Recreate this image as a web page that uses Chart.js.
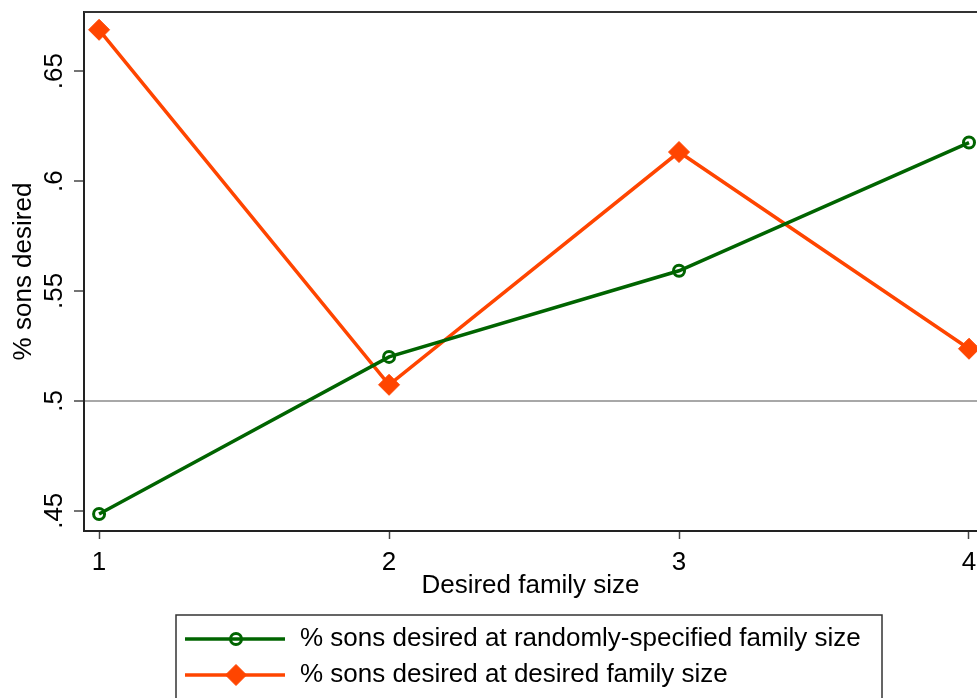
<!DOCTYPE html>
<html>
<head>
<meta charset="utf-8">
<script src="https://cdn.jsdelivr.net/npm/chart.js@4"></script>
<style>
  html, body { margin: 0; padding: 0; background: #fff; overflow: hidden; }
  #wrap { width: 977px; height: 698px; }
</style>
</head>
<body>
<div id="wrap"><canvas id="c" width="977" height="698"></canvas></div>
<script>
const familySizes = [1, 2, 3, 4];
const randomSpecified = [0.4485, 0.520, 0.5592, 0.6175];
const desiredSize = [0.6688, 0.5073, 0.6132, 0.5237];
const yTickValues = [0.45, 0.5, 0.55, 0.6, 0.65];
const xTickValues = [1, 2, 3, 4];
const seriesLabels = [
  '% sons desired at randomly-specified family size',
  '% sons desired at desired family size'
];
const xTitle = 'Desired family size';
const yTitle = '% sons desired';

const FONT = '"Liberation Sans", Arial, sans-serif';
const FS = 26;
const GREEN = '#006400';
const ORANGE = '#FF4500';

function fmt(v) {
  let s = String(Math.round(v * 100) / 100);
  return s.replace(/^0\./, '.');
}

const framePlugin = {
  id: 'frame',
  afterDraw(chart) {
    const ctx = chart.ctx;
    const a = chart.chartArea;
    ctx.save();
    // top frame line
    ctx.strokeStyle = '#333';
    ctx.lineWidth = 2;
    ctx.beginPath();
    ctx.moveTo(a.left, a.top);
    ctx.lineTo(a.right, a.top);
    ctx.stroke();

    ctx.fillStyle = '#000';
    ctx.font = FS + 'px ' + FONT;
    ctx.textAlign = 'center';
    ctx.textBaseline = 'alphabetic';

    // rotated y tick labels
    const ys = chart.scales.y;
    ys.ticks.forEach(t => {
      const py = ys.getPixelForValue(t.value);
      ctx.save();
      ctx.translate(62, py);
      ctx.rotate(-Math.PI / 2);
      ctx.fillText(fmt(t.value), 0, 0);
      ctx.restore();
    });

    // x tick labels
    const xs = chart.scales.x;
    xs.ticks.forEach(t => {
      const px = xs.getPixelForValue(t.value);
      ctx.fillText(String(t.value), px, 570);
    });

    // legend
    const lx = 176, ly = 615, lw = 706, lh = 120;
    ctx.strokeStyle = '#333';
    ctx.lineWidth = 1.5;
    ctx.strokeRect(lx, ly, lw, lh);
    chart.data.datasets.forEach((ds, i) => {
      const ry = 639 + i * 36;
      ctx.strokeStyle = ds.borderColor;
      ctx.lineWidth = 3.5;
      ctx.beginPath();
      ctx.moveTo(185, ry);
      ctx.lineTo(285, ry);
      ctx.stroke();
      ctx.fillStyle = ds.pointBackgroundColor;
      ctx.strokeStyle = ds.borderColor;
      ctx.lineWidth = ds.pointBorderWidth;
      Chart.helpers.drawPoint(ctx, {pointStyle: ds.pointStyle, rotation: 0, radius: ds.pointRadius, borderWidth: ds.pointBorderWidth}, 236, ry);
      ctx.fillStyle = '#000';
      ctx.font = FS + 'px ' + FONT;
      ctx.textAlign = 'left';
      ctx.textBaseline = 'middle';
      ctx.fillText(ds.label, 300, ry);
    });
    ctx.restore();
  }
};

new Chart(document.getElementById('c'), {
  type: 'line',
  data: {
    datasets: [
      {
        label: seriesLabels[0],
        data: familySizes.map((x, i) => ({x: x, y: randomSpecified[i]})),
        borderColor: GREEN,
        backgroundColor: GREEN,
        borderWidth: 3.5,
        pointStyle: 'circle',
        pointRadius: 5.5,
        pointBorderWidth: 3,
        pointBackgroundColor: 'rgba(255,255,255,0)',
        pointBorderColor: GREEN,
        tension: 0
      },
      {
        label: seriesLabels[1],
        data: familySizes.map((x, i) => ({x: x, y: desiredSize[i]})),
        borderColor: ORANGE,
        backgroundColor: ORANGE,
        borderWidth: 3.5,
        pointStyle: 'rectRot',
        pointRadius: 10.5,
        pointBorderWidth: 1,
        pointBackgroundColor: ORANGE,
        pointBorderColor: ORANGE,
        tension: 0
      }
    ]
  },
  options: {
    responsive: false,
    animation: false,
    layout: { autoPadding: false, padding: { top: 12, right: 0, left: 0, bottom: 97 } },
    plugins: {
      legend: { display: false },
      tooltip: { enabled: false }
    },
    scales: {
      x: {
        type: 'linear',
        min: 0.948,
        max: 4.0276,
        afterBuildTicks: s => { s.ticks = xTickValues.map(v => ({value: v})); },
        afterFit: s => { s.height = 70; },
        grid: { color: 'rgba(0,0,0,0)', tickColor: '#444', tickLength: 8, tickWidth: 1.5, drawOnChartArea: false },
        border: { display: true, color: '#222', width: 2 },
        ticks: { display: false },
        title: {
          display: true,
          text: xTitle,
          color: '#000',
          font: { family: FONT, size: FS },
          padding: { top: 0, bottom: 0 }
        }
      },
      y: {
        type: 'linear',
        min: 0.4408,
        max: 0.6769,
        afterBuildTicks: s => { s.ticks = yTickValues.map(v => ({value: v})); },
        afterFit: s => { s.width = 84; },
        grid: {
          color: c => (c.tick && Math.abs(c.tick.value - 0.5) < 1e-9) ? '#a8a8a8' : 'rgba(0,0,0,0)',
          lineWidth: 2,
          tickColor: '#444',
          tickLength: 10,
          tickWidth: 1.5
        },
        border: { display: true, color: '#222', width: 2 },
        ticks: { display: false },
        title: {
          display: true,
          text: yTitle,
          color: '#000',
          font: { family: FONT, size: FS },
          padding: { top: 8, bottom: 0 }
        }
      }
    }
  },
  plugins: [framePlugin]
});
</script>
</body>
</html>
